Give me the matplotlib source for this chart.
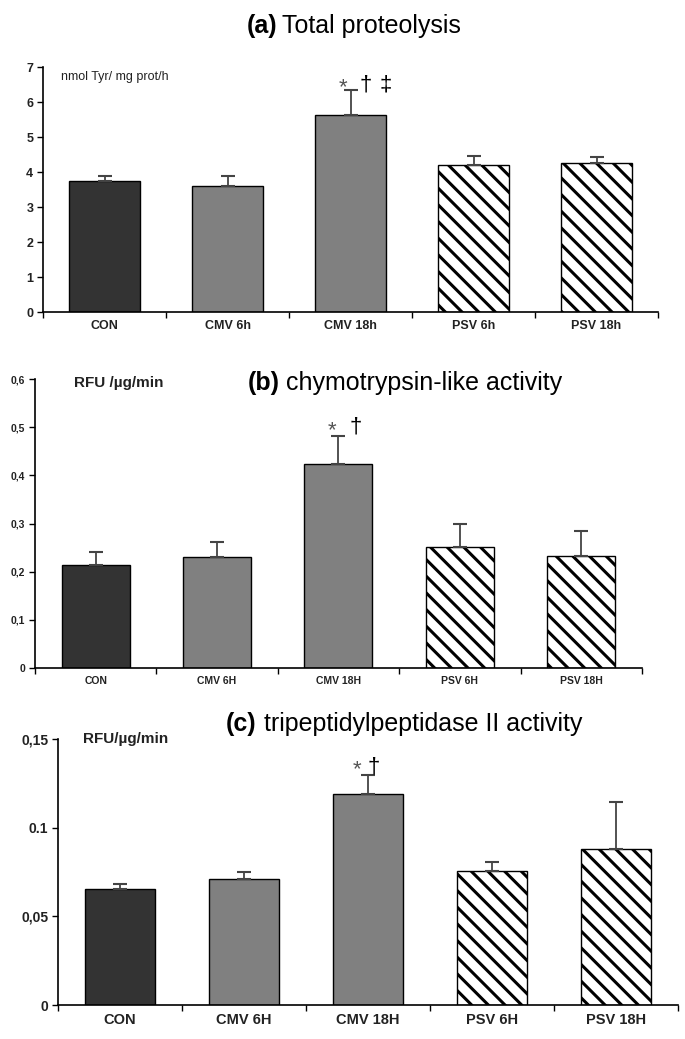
import matplotlib
matplotlib.use("Agg")
import matplotlib.pyplot as plt
from matplotlib import font_manager

# pick a narrow sans if there is one, the figure uses a condensed Helvetica look
names = set(f.name for f in font_manager.fontManager.ttflist)
FONT = "Liberation Sans Narrow" if "Liberation Sans Narrow" in names else "Liberation Sans"
plt.rcParams["font.family"] = [FONT, "DejaVu Sans"]
plt.rcParams["hatch.linewidth"] = 2.2

# --- data ---
groups_a = ["CON", "CMV 6h", "CMV 18h", "PSV 6h", "PSV 18h"]
groups_bc = ["CON", "CMV 6H", "CMV 18H", "PSV 6H", "PSV 18H"]

proteolysis = [3.74, 3.60, 5.62, 4.20, 4.25]
proteolysis_top = [3.88, 3.88, 6.35, 4.46, 4.43]   # mean + SE

chymo = [0.214, 0.230, 0.424, 0.251, 0.232]
chymo_top = [0.241, 0.262, 0.481, 0.298, 0.284]

tpp2 = [0.0655, 0.0710, 0.1190, 0.0755, 0.0880]
tpp2_top = [0.0680, 0.0752, 0.1295, 0.0808, 0.1145]

yticks_a = [0, 1, 2, 3, 4, 5, 6, 7]
ylabels_a = ["0", "1", "2", "3", "4", "5", "6", "7"]
yticks_b = [0, 0.1, 0.2, 0.3, 0.4, 0.5, 0.6]
ylabels_b = ["0", "0,1", "0,2", "0,3", "0,4", "0,5", "0,6"]
yticks_c = [0, 0.05, 0.1, 0.15]
ylabels_c = ["0", "0,05", "0.1", "0,15"]

fill = ["#333333", "#808080", "#808080", "white", "white"]
hatch = [None, None, None, "\\\\", "\\\\"]


def draw_panel(ax, labels, vals, tops, yticks, ylabels, ymax, tick_fs, xl_fs, bw):
    x = range(len(vals))
    for i in x:
        ax.bar(i, vals[i], width=bw, color=fill[i], edgecolor="black",
               linewidth=1.0, hatch=hatch[i], zorder=2)
        ax.errorbar(i, vals[i], yerr=[[0], [tops[i] - vals[i]]], fmt="none",
                    ecolor="#444444", elinewidth=1.3, capsize=5, capthick=1.5, zorder=3)
    ax.set_xlim(-0.5, len(vals) - 0.5)
    ax.set_ylim(0, ymax)
    ax.spines["top"].set_visible(False)
    ax.spines["right"].set_visible(False)
    ax.spines["left"].set_linewidth(1.2)
    ax.spines["bottom"].set_linewidth(1.2)
    ax.set_xticks(list(x))
    ax.set_xticklabels(labels, fontsize=xl_fs, fontweight="bold", color="#222222")
    ax.set_xticks([k - 0.5 for k in range(len(vals) + 1)], minor=True)
    ax.tick_params(axis="x", which="major", length=0, pad=6)
    ax.tick_params(axis="x", which="minor", length=4, width=1)
    ax.set_yticks(yticks)
    ax.set_yticklabels(ylabels, fontsize=tick_fs, fontweight="bold", color="#222222")
    ax.tick_params(axis="y", length=4, width=1, pad=3)


fig = plt.figure(figsize=(6.85, 10.39), dpi=100)

# (a) total proteolysis
ax1 = fig.add_axes([0.0628, 0.6997, 0.8978, 0.2358])
draw_panel(ax1, groups_a, proteolysis, proteolysis_top, yticks_a, ylabels_a, 7, 9, 9, 0.57)
ax1.text(0.03, 0.96, "nmol Tyr/ mg prot/h", transform=ax1.transAxes, fontsize=9,
         va="center", ha="left", color="#222222")
ax1.text(1.94, 6.42, "*", fontsize=16, color="#555555", ha="center", va="center")
ax1.text(2.12, 6.5, "†", fontsize=16, ha="center", va="center")
ax1.text(2.29, 6.5, "‡", fontsize=16, ha="center", va="center")
fig.text(0.36, 0.975, "(a)", fontsize=18, fontweight="bold", ha="left", va="center")
fig.text(0.412, 0.975, "Total proteolysis", fontsize=18, ha="left", va="center")

# (b) chymotrypsin-like activity
ax2 = fig.add_axes([0.0511, 0.3571, 0.886, 0.2781])
draw_panel(ax2, groups_bc, chymo, chymo_top, yticks_b, ylabels_b, 0.6, 7.5, 7.5, 0.56)
ax2.text(0.065, 0.985, "RFU /µg/min", transform=ax2.transAxes, fontsize=11,
         fontweight="bold", va="center", ha="left", color="#222222")
ax2.text(1.95, 0.493, "*", fontsize=16, color="#555555", ha="center", va="center")
ax2.text(2.14, 0.5, "†", fontsize=16, ha="center", va="center")
fig.text(0.362, 0.631, "(b)", fontsize=18, fontweight="bold", ha="left", va="center")
fig.text(0.418, 0.631, "chymotrypsin-like activity", fontsize=18, ha="left", va="center")

# (c) tripeptidylpeptidase II activity
ax3 = fig.add_axes([0.0847, 0.0327, 0.905, 0.256])
draw_panel(ax3, groups_bc, tpp2, tpp2_top, yticks_c, ylabels_c, 0.15, 10, 10.5, 0.56)
ax3.text(0.04, 1.0, "RFU/µg/min", transform=ax3.transAxes, fontsize=11,
         fontweight="bold", va="center", ha="left", color="#222222")
ax3.text(1.91, 0.1325, "*", fontsize=16, color="#555555", ha="center", va="center")
ax3.text(2.05, 0.1345, "†", fontsize=16, ha="center", va="center")
fig.text(0.33, 0.303, "(c)", fontsize=18, fontweight="bold", ha="left", va="center")
fig.text(0.385, 0.303, "tripeptidylpeptidase II activity", fontsize=18, ha="left", va="center")

fig.savefig("out.png", dpi=100)
